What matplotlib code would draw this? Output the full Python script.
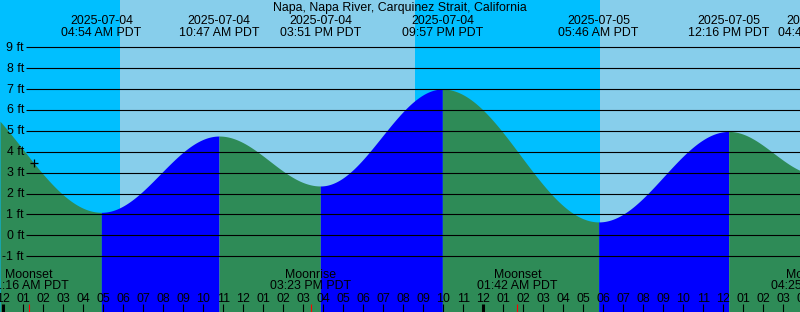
import numpy as np
import pandas as pd
import matplotlib
matplotlib.use("Agg")
import matplotlib.pyplot as plt

station = "Napa, Napa River, Carquinez Strait, California"

# tide extremes (first one is off the left edge, only used for the curve shape)
tide_times = ["2025-07-03 21:00", "2025-07-04 04:54", "2025-07-04 10:47",
              "2025-07-04 15:51", "2025-07-04 21:57", "2025-07-05 05:46",
              "2025-07-05 12:16", "2025-07-05 16:45"]
tide_levels = [7.2, 1.1, 4.75, 2.36, 7.0, 0.64, 4.97, 2.9]

moon_times = ["2025-07-04 01:16", "2025-07-04 15:23", "2025-07-05 01:42", "2025-07-05 16:25"]
moon_events = ["Moonset", "Moonrise", "Moonset", "Moonrise"]

night_start = ["2025-07-03 20:35", "2025-07-04 20:35"]
night_end = ["2025-07-04 05:50", "2025-07-05 05:50"]

now_time = "2025-07-04 01:32"
ft_levels = list(range(-1, 10))

DAY = "#87CEEB"
NIGHT = "#00BFFF"
EBB = "#2E8B57"
FLOOD = "#0000FF"

t0 = pd.Timestamp("2025-07-04 00:00")


def hrs(s):
    return (pd.Timestamp(s) - t0) / pd.Timedelta(hours=1)


# 20 px per hour, 0 ft at pixel row 235.3, 20.9 px per ft
h_start = hrs("2025-07-03 23:50")
h_end = h_start + 40
PX_H = 20.0
Y0 = 235.3
PX_FT = 20.9


def py(p):
    return (Y0 - p) / PX_FT


def px(p):
    return h_start + p / PX_H


tt = np.array([hrs(s) for s in tide_times])
ll = np.array(tide_levels)


def level_at(t):
    i = np.clip(np.searchsorted(tt, t) - 1, 0, len(tt) - 2)
    a, b = tt[i], tt[i + 1]
    frac = (1 - np.cos(np.pi * (t - a) / (b - a))) / 2
    return ll[i] + (ll[i + 1] - ll[i]) * frac


plt.rcParams["font.family"] = ["Liberation Sans", "DejaVu Sans"]
FS = 8.9

fig = plt.figure(figsize=(8, 3.12), dpi=100)
ax = fig.add_axes([0, 0, 1, 1])
ax.set_xlim(h_start, h_end)
ybot, ytop = py(312), py(0)
ax.set_ylim(ybot, ytop)
ax.axis("off")

# sky
ax.axvspan(h_start, h_end, color=DAY, lw=0, antialiased=False, zorder=0)
for s, e in zip(night_start, night_end):
    ax.axvspan(hrs(s), hrs(e), color=NIGHT, lw=0, antialiased=False, zorder=0)

# tide fill, blue when rising, green when falling
for i in range(len(tt) - 1):
    a, b = max(tt[i], h_start), min(tt[i + 1], h_end)
    if b <= a:
        continue
    ts = np.linspace(a, b, 300)
    col = FLOOD if ll[i + 1] > ll[i] else EBB
    ax.fill_between(ts, ybot, level_at(ts), color=col, lw=0, antialiased=False, zorder=1)

# level lines and labels
for f in ft_levels:
    ax.hlines(f, px(26), h_end, color="black", lw=0.8, zorder=2)
    ax.text(px(24), py(Y0 - f * PX_FT + 3.5), f"{f} ft", ha="right", va="baseline",
            fontsize=FS, zorder=3)

# title and tide event labels
ax.text((h_start + h_end) / 2, py(11), station, ha="center", va="baseline", fontsize=FS)
for s in tide_times:
    h = hrs(s)
    if h < h_start - 2 or h > h_end + 2:
        continue
    ts = pd.Timestamp(s)
    ax.text(h, py(24), ts.strftime("%Y-%m-%d"), ha="center", va="baseline", fontsize=FS, zorder=3)
    ax.text(h, py(36), ts.strftime("%I:%M %p PDT"), ha="center", va="baseline", fontsize=FS, zorder=3)

# moon events
for s, name in zip(moon_times, moon_events):
    h = hrs(s)
    ts = pd.Timestamp(s)
    ax.text(h, py(278.3), name, ha="center", va="baseline", fontsize=FS, zorder=3)
    ax.text(h, py(289.3), ts.strftime("%I:%M %p PDT"), ha="center", va="baseline", fontsize=FS, zorder=3)
    ax.vlines(h, py(312), py(304), color="red", lw=0.8, zorder=3)

# hour ticks
for h in range(int(np.ceil(h_start)), int(np.floor(h_end)) + 2):
    ts = t0 + pd.Timedelta(hours=h)
    ax.text(h, py(301.7), ts.strftime("%I"), ha="center", va="baseline", fontsize=FS, zorder=3)
    lw = 2.2 if ts.hour == 0 else 0.8
    ax.vlines(h, py(312), py(304), color="black", lw=lw, zorder=3)

# current time marker
hn = hrs(now_time)
ax.plot(hn, level_at(hn), marker="+", ms=6, mew=0.9, color="black", zorder=4)

fig.savefig("out.png", dpi=100)
